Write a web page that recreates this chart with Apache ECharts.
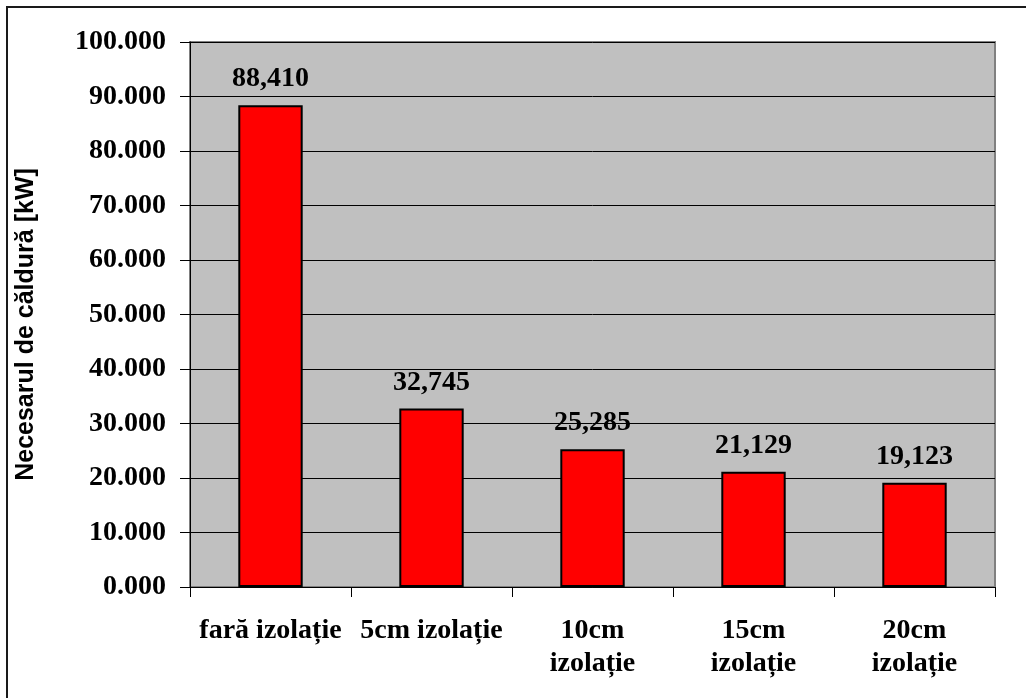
<!DOCTYPE html>
<html>
<head>
<meta charset="utf-8">
<script src="https://cdn.jsdelivr.net/npm/echarts@6/dist/echarts.min.js"></script>
<style>
html,body{margin:0;padding:0;background:#fff;}
#chart{width:1026px;height:698px;}
</style>
</head>
<body>
<div id="chart"></div>
<script>
var categories = ["fară izolație", "5cm izolație", "10cm\nizolație", "15cm\nizolație", "20cm\nizolație"];
var values = [88.410, 32.745, 25.285, 21.129, 19.123];
var yAxisTitle = "Necesarul de căldură [kW]";
var yMin = 0, yMax = 100, yStep = 10;

var serif = "'Liberation Serif','Times New Roman',serif";
var chart = echarts.init(document.getElementById('chart'), null, {renderer: 'canvas'});
chart.setOption({
  animation: false,
  backgroundColor: '#ffffff',
  graphic: [{
    type: 'rect',
    shape: {x: 7, y: 7, width: 1040, height: 720},
    style: {fill: 'none', stroke: '#1a1a1a', lineWidth: 2},
    z: 100
  }],
  grid: {
    left: 190, top: 42, right: 31, bottom: 111,
    show: true,
    backgroundColor: '#c0c0c0',
    borderColor: '#808080',
    borderWidth: 2
  },
  xAxis: {
    type: 'category',
    data: categories,
    axisLine: {show: true, lineStyle: {color: '#000', width: 1}},
    axisTick: {show: true, length: 10, lineStyle: {color: '#000'}},
    axisLabel: {
      color: '#000', fontFamily: serif, fontWeight: 'bold', fontSize: 28,
      lineHeight: 33, margin: 27, interval: 0
    }
  },
  yAxis: {
    type: 'value',
    min: yMin, max: yMax, interval: yStep,
    name: yAxisTitle,
    nameLocation: 'middle',
    nameGap: 151,
    nameRotate: 90,
    nameTextStyle: {color: '#000', fontFamily: "'Liberation Sans',Arial,sans-serif", fontWeight: 'bold', fontSize: 25, padding: [0, 20, 0, 0]},
    axisLine: {show: true, lineStyle: {color: '#000', width: 1}},
    axisTick: {show: true, length: 10, lineStyle: {color: '#000'}},
    splitLine: {show: true, lineStyle: {color: '#000', width: 1}},
    axisLabel: {
      color: '#000', fontFamily: serif, fontWeight: 'bold', fontSize: 28, margin: 24,
      formatter: function (v) { return v.toFixed(3); }
    }
  },
  series: [{
    type: 'bar',
    data: values,
    barWidth: '40%',
    itemStyle: {color: '#ff0000', borderColor: '#000', borderWidth: 2},
    label: {
      show: true, position: 'top', distance: 12,
      color: '#000', fontFamily: serif, fontWeight: 'bold', fontSize: 28,
      formatter: function (p) { return p.value.toFixed(3).replace('.', ','); }
    }
  }]
});
</script>
</body>
</html>
